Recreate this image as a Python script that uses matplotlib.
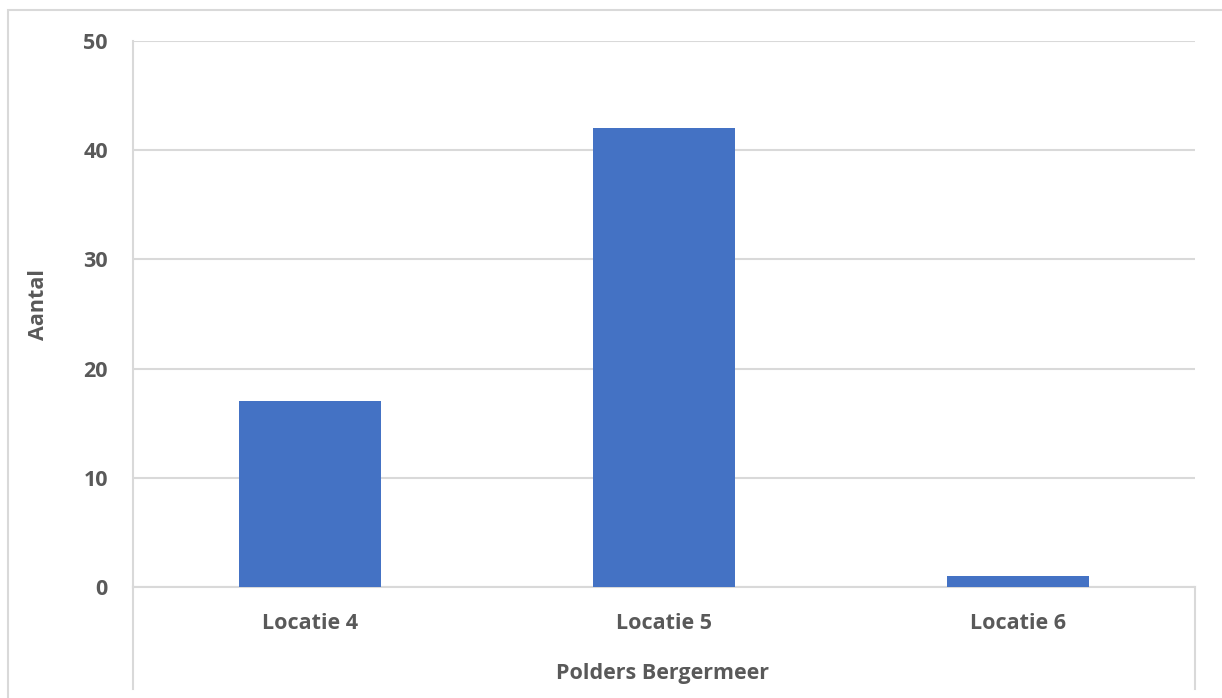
import matplotlib.pyplot as plt
from matplotlib.lines import Line2D
from matplotlib.patches import Rectangle

# counts per location
locaties = ['Locatie 4', 'Locatie 5', 'Locatie 6']
aantal = [17, 42, 1]
y_ticks = [0, 10, 20, 30, 40, 50]

W, H = 1222, 698
text_kleur = '#595959'
lijn_kleur = '#D9D9D9'
plt.rcParams['font.family'] = ['Open Sans', 'DejaVu Sans']
fs = 15.5

fig = plt.figure(figsize=(W / 100, H / 100), dpi=100)

# plot area in pixels: left, right, top, bottom
x0, x1, y_top, y0 = 133, 1195, 41, 587
ax = fig.add_axes([x0 / W, 1 - y0 / H, (x1 - x0) / W, (y0 - y_top) / H])

xs = range(len(locaties))
ax.bar(xs, aantal, width=0.4, color='#4472C4', zorder=3)
ax.set_xlim(-0.5, len(locaties) - 0.5)
ax.set_ylim(0, 50)
ax.set_yticks(y_ticks)
ax.set_xticks(list(xs))
ax.set_xticklabels(locaties)
ax.grid(axis='y', color=lijn_kleur, linewidth=1.5, zorder=0)
ax.tick_params(axis='y', length=0, pad=18, labelsize=fs, labelcolor=text_kleur)
ax.tick_params(axis='x', length=0, pad=18.5, labelsize=fs, labelcolor=text_kleur)
for lbl in ax.get_xticklabels() + ax.get_yticklabels():
    lbl.set_fontweight('bold')
for s in ['top', 'right']:
    ax.spines[s].set_visible(False)
ax.spines['left'].set_color(lijn_kleur)
ax.spines['left'].set_linewidth(1.5)
ax.spines['bottom'].set_color(lijn_kleur)
ax.spines['bottom'].set_linewidth(1.5)

# box lines below the category axis
box_bottom = 689
for xp in (x0, x1):
    fig.add_artist(Line2D([xp / W, xp / W], [1 - y0 / H, 1 - box_bottom / H],
                          color=lijn_kleur, linewidth=1.5))

# chart area border
fig.add_artist(Rectangle((8 / W, -0.05), 1.1, 1 - 10 / H + 0.05,
                         transform=fig.transFigure, fill=False,
                         edgecolor=lijn_kleur, linewidth=1.5))

fig.text(662 / W, 1 - 673 / H, 'Polders Bergermeer', ha='center', va='center',
         fontsize=fs, fontweight='bold', color=text_kleur)
fig.text(38 / W, 1 - 304 / H, 'Aantal', ha='center', va='center', rotation=90,
         fontsize=fs, fontweight='bold', color=text_kleur)

fig.savefig('out.png', dpi=100)
